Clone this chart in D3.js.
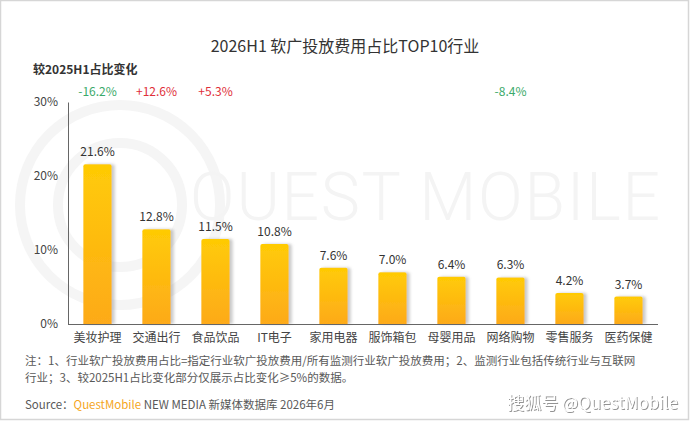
<!DOCTYPE html>
<html><head><meta charset="utf-8">
<script src="https://cdn.jsdelivr.net/npm/d3@7"></script>
<style>body{margin:0;background:#fff}svg{display:block}</style>
</head><body>
<script>
const categories = ["美妆护理","交通出行","食品饮品","IT电子","家用电器","服饰箱包","母婴用品","网络购物","零售服务","医药保健"];
const shares = [21.6,12.8,11.5,10.8,7.6,7.0,6.4,6.3,4.2,3.7];
const changes = ["-16.2%","+12.6%","+5.3%",null,null,null,null,"-8.4%",null,null];
const yTicks = [0,10,20,30];

const W=690,H=421;
const svg=d3.select("body").append("svg").attr("width",W).attr("height",H);
const defs=svg.append("defs");
const g1=defs.append("linearGradient").attr("id","bar").attr("x1",0).attr("y1",0).attr("x2",0).attr("y2",1);
g1.append("stop").attr("offset","0%").attr("stop-color","#FFCB05");
g1.append("stop").attr("offset","100%").attr("stop-color","#FDAA1A");
const f=defs.append("filter").attr("id","sh").attr("x","-30%").attr("y","-10%").attr("width","160%").attr("height","120%");
f.append("feDropShadow").attr("dx",3).attr("dy",0).attr("stdDeviation",1.5).attr("flood-color","#888").attr("flood-opacity",0.45);
const ts=defs.append("filter").attr("id","ts");
ts.append("feDropShadow").attr("dx",1).attr("dy",1).attr("stdDeviation",0.6).attr("flood-color","#777").attr("flood-opacity",0.8);

// frame
svg.append("rect").attr("x",0.5).attr("y",0.5).attr("width",W-2).attr("height",H-2).attr("fill","#fff").attr("stroke","#d6d6d6").attr("stroke-width",1.5);

// watermark
const wm=svg.append("g").attr("fill","none").attr("stroke","#f5f5f5");
wm.append("circle").attr("cx",120).attr("cy",205).attr("r",100).attr("stroke-width",10);
wm.append("circle").attr("cx",120).attr("cy",205).attr("r",62).attr("stroke-width",10);
svg.append("text").attr("x",190).attr("y",220).attr("font-family","Roboto, sans-serif").attr("font-size",66).attr("font-weight",300)
  .attr("fill","#f4f4f4").attr("textLength",470).attr("lengthAdjust","spacing").text("QUEST MOBILE");

const font="'Microsoft YaHei','Noto Sans CJK SC',sans-serif";
const x=d3.scaleBand().domain(categories).range([68,658]).paddingInner(0.52).paddingOuter(0.26);
const y=d3.scaleLinear().domain([0,30]).range([324,102]);

svg.append("text").attr("x",345).attr("y",52).attr("text-anchor","middle").attr("font-family",font).attr("font-size",16).attr("fill","#333").text("2026H1 软广投放费用占比TOP10行业");
svg.append("text").attr("x",33).attr("y",74).attr("font-family",font).attr("font-size",12).attr("font-weight","bold").attr("fill","#333").text("较2025H1占比变化");

// y axis
const ya=svg.append("g").attr("transform","translate(68,0)").call(d3.axisLeft(y).tickValues(yTicks).tickSize(0).tickPadding(10).tickFormat(d=>d+"%"));
ya.select(".domain").attr("stroke","#666");
ya.selectAll("text").attr("font-family",font).attr("font-size",12).attr("fill","#444");

// bars
const bw=x.bandwidth(), r=2;
svg.append("g").selectAll("path").data(categories).join("path")
  .attr("filter","url(#sh)").attr("fill","url(#bar)")
  .attr("d",(c,i)=>{const x0=x(c),y0=y(shares[i]),y1=y(0);return `M${x0},${y1}V${y0+r}Q${x0},${y0} ${x0+r},${y0}H${x0+bw-r}Q${x0+bw},${y0} ${x0+bw},${y0+r}V${y1}Z`;});

// x axis
const xa=svg.append("g").attr("transform","translate(0,324)").call(d3.axisBottom(x).tickSize(0).tickPadding(9));
xa.select(".domain").attr("stroke","#666").attr("d","M68,0.5H658");
xa.selectAll("text").attr("font-family",font).attr("font-size",12).attr("fill","#444");

// value labels
svg.append("g").selectAll("text").data(categories).join("text")
  .attr("x",c=>x(c)+bw/2).attr("y",(c,i)=>y(shares[i])-8).attr("text-anchor","middle")
  .attr("font-family",font).attr("font-size",12).attr("fill","#333").text((c,i)=>shares[i].toFixed(1)+"%");

// change labels
svg.append("g").selectAll("text").data(categories.filter((c,i)=>changes[i])).join("text")
  .attr("x",c=>x(c)+bw/2).attr("y",96).attr("text-anchor","middle").attr("font-family",font).attr("font-size",12)
  .attr("fill",c=>changes[categories.indexOf(c)].startsWith("-")?"#3BAA6A":"#E0303A")
  .text(c=>changes[categories.indexOf(c)]);

// notes
const nt=svg.append("g").attr("font-family",font).attr("font-size",11.5).attr("fill","#595959");
nt.append("text").attr("x",25).attr("y",365).text("注：1、行业软广投放费用占比=指定行业软广投放费用/所有监测行业软广投放费用；2、监测行业包括传统行业与互联网");
nt.append("text").attr("x",25).attr("y",382).text("行业；3、较2025H1占比变化部分仅展示占比变化≥5%的数据。");
const src=svg.append("text").attr("x",25).attr("y",409).attr("font-family",font).attr("font-size",11.5).attr("fill","#595959");
src.append("tspan").text("Source：");
src.append("tspan").attr("fill","#F5A623").text("QuestMobile");
src.append("tspan").text(" NEW MEDIA 新媒体数据库 2026年6月");

svg.append("text").attr("x",678).attr("y",409).attr("text-anchor","end").attr("font-family",font).attr("font-size",17)
  .attr("fill","#fff").attr("filter","url(#ts)").text("搜狐号 @QuestMobile");
</script>
</body></html>
